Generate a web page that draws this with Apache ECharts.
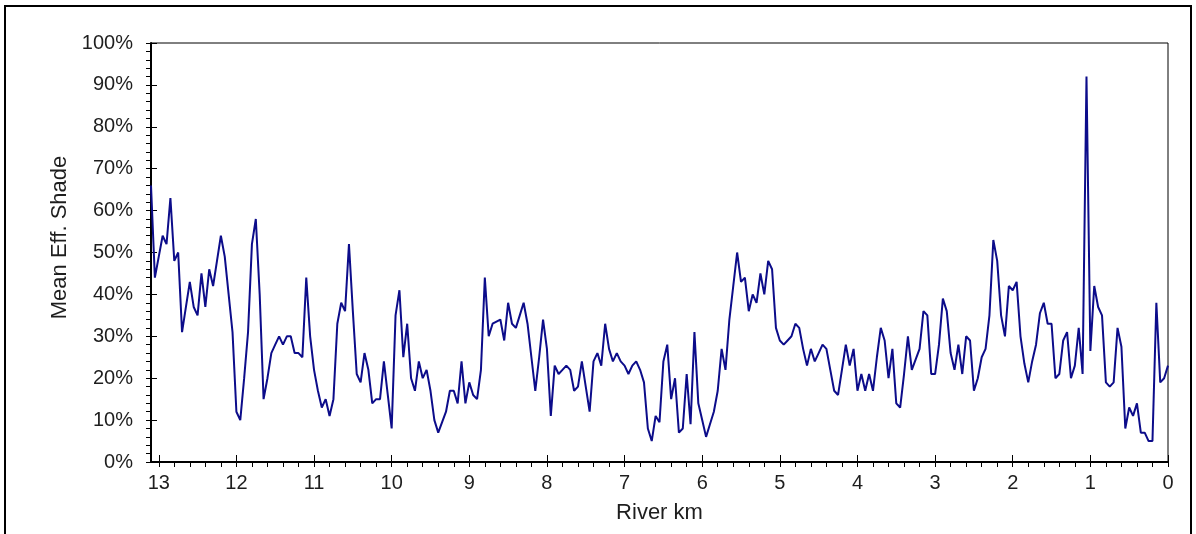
<!DOCTYPE html>
<html>
<head>
<meta charset="utf-8">
<title>Mean Eff. Shade by River km</title>
<script src="https://cdn.jsdelivr.net/npm/echarts@6/dist/echarts.min.js"></script>
<style>
  html, body { margin: 0; padding: 0; background: #fff; }
  #wrap { position: relative; width: 1196px; height: 534px; overflow: hidden; }
  #chart { width: 1196px; height: 534px; }
  #frame {
    position: absolute; left: 4px; top: 5px; width: 1184px; height: 600px;
    border: 2px solid #000; pointer-events: none;
  }
</style>
</head>
<body>
<div id="wrap">
  <div id="chart"></div>
  <div id="frame"></div>
</div>
<script>
// river km runs from 13.1 down to 0, sampled every 0.05 km
const kmStart = 13.1
const kmStep = 0.05

// mean effective shade (%), upstream -> downstream
const shadeValues = [
  66, 44, 49, 54, 52, 63, 48, 50, 31, 37,
  43, 37, 35, 45, 37, 46, 42, 48, 54, 49,
  40, 31, 12, 10, 20, 31, 52, 58, 40, 15,
  20, 26, 28, 30, 28, 30, 30, 26, 26, 25,
  44, 30, 22, 17, 13, 15, 11, 15, 33, 38,
  36, 52, 36, 21, 19, 26, 22, 14, 15, 15,
  24, 16, 8, 35, 41, 25, 33, 20, 17, 24,
  20, 22, 17, 10, 7, 9.5, 12, 17, 17, 14,
  24, 14, 19, 16, 15, 22, 44, 30, 33, 33.5,
  34, 29, 38, 33, 32, 35, 38, 33, 25, 17,
  25, 34, 27, 11, 23, 21, 22, 23, 22, 17,
  18, 24, 18, 12, 24, 26, 23, 33, 27, 24,
  26, 24, 23, 21, 23, 24, 22, 19, 8, 5,
  11, 9.5, 24, 28, 15, 20, 7, 8, 21, 9,
  31, 14, 10, 6, 9, 12, 17, 27, 22, 34,
  42, 50, 43, 44, 36, 40, 38, 45, 40, 48,
  46, 32, 29, 28, 29, 30, 33, 32, 27, 23,
  27, 24, 26, 28, 27, 22, 17, 16, 22, 28,
  23, 27, 17, 21, 17, 21, 17, 25, 32, 29,
  20, 27, 14, 13, 21, 30, 22, 24.5, 27, 36,
  35, 21, 21, 28, 39, 36, 26, 22, 28, 21,
  30, 29, 17, 20, 25, 27, 35, 53, 48, 35,
  30, 42, 41, 43, 30, 23.5, 19, 24, 28, 35.5,
  38, 33, 33, 20, 21, 29, 31, 20, 23, 32,
  21, 92, 26.5, 42, 37, 35, 19, 18, 19, 32,
  27.5, 8, 13, 11, 14, 7, 7, 5, 5, 38,
  19, 20, 23
]

const xTicks = [13, 12, 11, 10, 9, 8, 7, 6, 5, 4, 3, 2, 1, 0]
const yTicks = [0, 10, 20, 30, 40, 50, 60, 70, 80, 90, 100]

const lineColor = '#0c0c8a'
const textColor = '#1e1e1e'
const fontFamily = '"Liberation Sans", Arial, sans-serif'

const seriesData = shadeValues.map((v, i) => [+(kmStart - i * kmStep).toFixed(2), v])

// small ticks every 0.2 km
const xMinor = []
for (let k = 0; k <= 13.0001; k += 0.2) xMinor.push(+k.toFixed(1))

const gridBox = { left: 151, top: 43, right: 28, bottom: 72 }
const tickLine = { color: '#000', width: 1 }

const chart = echarts.init(document.getElementById('chart'))
chart.setOption({
  animation: false,
  grid: [
    Object.assign({ show: true, borderColor: '#000', borderWidth: 1 }, gridBox),
    // overlay grid, only used for the inward half of the major ticks
    Object.assign({ show: false }, gridBox)
  ],
  xAxis: [{
    type: 'value',
    gridIndex: 0,
    min: 0,
    max: kmStart,
    inverse: true,
    name: 'River km',
    nameLocation: 'middle',
    nameGap: 40,
    nameTextStyle: { color: textColor, fontSize: 22, fontFamily },
    axisLine: { onZero: false, lineStyle: { color: '#000', width: 2 } },
    axisTick: { customValues: xMinor, length: 5, lineStyle: tickLine },
    axisLabel: {
      customValues: xTicks,
      margin: 11,
      color: textColor,
      fontSize: 20,
      fontFamily
    },
    splitLine: { show: false }
  }, {
    type: 'value',
    gridIndex: 1,
    min: 0,
    max: kmStart,
    inverse: true,
    axisLine: { show: false, onZero: false },
    axisTick: { customValues: xTicks, inside: true, length: 7, lineStyle: tickLine },
    axisLabel: { show: false },
    splitLine: { show: false }
  }],
  yAxis: [{
    type: 'value',
    gridIndex: 0,
    min: 0,
    max: 100,
    interval: 10,
    name: 'Mean Eff. Shade',
    nameLocation: 'middle',
    nameGap: 80,
    nameTextStyle: { color: textColor, fontSize: 22, fontFamily, padding: [0, 0, 0, 30] },
    axisLine: { show: true, onZero: false, lineStyle: { color: '#000', width: 2 } },
    axisTick: { show: true, length: 5, lineStyle: tickLine },
    minorTick: { show: true, splitNumber: 5, length: 5, lineStyle: tickLine },
    axisLabel: {
      customValues: yTicks,
      formatter: '{value}%',
      margin: 18,
      color: textColor,
      fontSize: 20,
      fontFamily
    },
    splitLine: { show: false }
  }, {
    type: 'value',
    gridIndex: 1,
    min: 0,
    max: 100,
    interval: 10,
    axisLine: { show: false, onZero: false },
    axisTick: { show: true, inside: true, length: 6, lineStyle: tickLine },
    axisLabel: { show: false },
    splitLine: { show: false }
  }],
  series: [{
    type: 'line',
    xAxisIndex: 0,
    yAxisIndex: 0,
    data: seriesData,
    showSymbol: false,
    lineStyle: { color: lineColor, width: 2 },
    itemStyle: { color: lineColor }
  }]
})
</script>
</body>
</html>
